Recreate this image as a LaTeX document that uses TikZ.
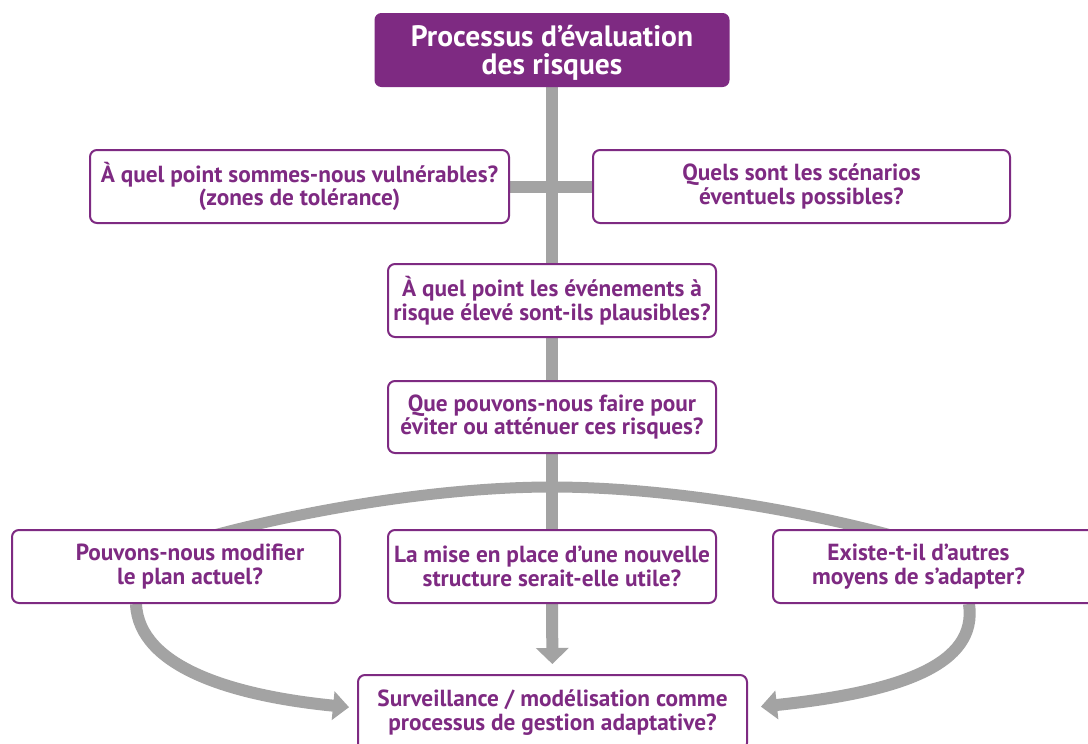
\documentclass[tikz,border=0pt]{standalone}
\usepackage{fontspec}
\setmainfont{PT Sans}
\usetikzlibrary{arrows.meta,backgrounds}
\definecolor{vio}{HTML}{7E2A82}
\definecolor{gr}{RGB}{163,163,163}
\begin{document}
\begin{tikzpicture}[x=1pt,y=-1pt,
  qbox/.style={draw=vio, line width=2pt, rounded corners=7pt, fill=white, text=vio,
    font=\bfseries\fontsize{23.3}{23.5}\selectfont, align=center, inner sep=0pt},
  titlebox/.style={draw=vio, line width=2pt, rounded corners=6pt, fill=vio, text=white,
    font=\bfseries\fontsize{29.5}{28}\selectfont, align=center, inner sep=0pt},
  conn/.style={draw=gr, line width=12pt},
  tip/.style={-{Triangle[width=32pt,length=16pt]}},
  sidetip/.style={-{Triangle[width=28pt,length=16pt]}}]
\useasboundingbox (0,0) rectangle (1088,744);

\node[titlebox, minimum width=353pt, minimum height=72pt] (top) at (552,50)
  {\rule{0pt}{27pt}Processus d’évaluation\\des risques};
\node[qbox, minimum width=419pt, minimum height=73pt] (b1) at (299.5,186.5)
  {À quel point sommes-nous vulnérables?\\(zones de tolérance)};
\node[qbox, minimum width=417pt, minimum height=73pt] (b2) at (801.5,186.5)
  {Quels sont les scénarios\\éventuels possibles?};
\node[qbox, minimum width=328pt, minimum height=73pt] (b3) at (552,300.5)
  {À quel point les événements à\\risque élevé sont-ils plausibles?};
\node[qbox, minimum width=328pt, minimum height=72pt] (b4) at (552,417)
  {Que pouvons-nous faire pour\\éviter ou atténuer ces risques?};
\node[qbox, minimum width=328pt, minimum height=73pt] (L) at (176,566.5)
  {\hspace*{28pt}Pouvons-nous modifier\\\hspace*{28pt}le plan actuel?};
\node[qbox, minimum width=328pt, minimum height=73pt] (M) at (552,566.5)
  {La mise en place d’une nouvelle\\structure serait-elle utile?};
\node[qbox, minimum width=327pt, minimum height=73pt] (R) at (936.5,566.5)
  {Existe-t-il d’autres\hspace*{36pt}\\moyens de s’adapter?\hspace*{36pt}};
\node[qbox, minimum width=389pt, minimum height=75pt] (B) at (552.5,712.5)
  {Surveillance / modélisation comme\\processus de gestion adaptative?};

\coordinate (arcTop) at (552,487);

\begin{scope}[on background layer]
  \fill[white] (0,0) rectangle (1088,744);
  \draw[conn] (top) -- (b3);
  \draw[conn] (b1) -- (b2);
  \draw[conn] (b3) -- (b4);
  \draw[conn] (b4) -- (M);
  \draw[conn, tip, shorten >=10pt] (M) -- (B);
  \draw[conn, line width=11pt] ([xshift=196pt,yshift=-8pt]L.north west)
    .. controls (290,514) and (430,487) .. (arcTop)
    .. controls (674,487) and (817,514) .. ([xshift=126pt,yshift=-8pt]R.north west);
  \draw[conn, sidetip, shorten >=8pt] ([xshift=125pt]L.south west)
    .. controls (139,668) and (235,696) .. ([yshift=4.5pt]B.west);
  \draw[conn, sidetip, shorten >=13pt] ([xshift=197pt]R.south west)
    .. controls (978,665) and (900,692) .. ([yshift=4.5pt]B.east);
\end{scope}
\end{tikzpicture}
\end{document}
